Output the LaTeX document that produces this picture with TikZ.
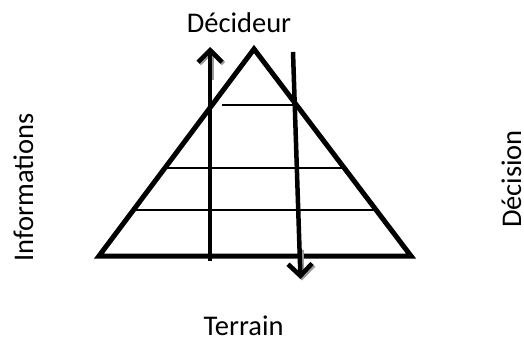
\documentclass[tikz,border=0pt]{standalone}
\usepackage{fontspec}
\setmainfont{Carlito}
\usetikzlibrary{arrows.meta}
\begin{document}
\begin{tikzpicture}[x=1pt,y=-1pt,
  lbl/.style={inner sep=0pt,font=\fontsize{28.5}{30}\selectfont},
  tri/.style={line width=5pt,miter limit=10},
  rung/.style={line width=1.5pt},
  arr/.style={line width=4.5pt,-{Straight Barb[length=12pt,width=24pt,line width=4.5pt]}},
  shade/.style={arr,draw=black!40}]
\useasboundingbox (0,0) rectangle (524,339);
% labels
\node[lbl,anchor=base] (dec) at (239,33) {Décideur};
\node[lbl,anchor=base] (ter) at (243.5,335) {Terrain};
\node[lbl,anchor=base,rotate=90] (inf) at (33,187.5) {Informations};
\node[lbl,anchor=base,rotate=90] (dsn) at (521,179) {Décision};
% triangle
\coordinate (A) at (99,256);
\coordinate (B) at (411,256);
\coordinate (C) at (254,49);
\draw[tri] (A) -- (B) -- (C) -- cycle;
% rungs
\coordinate (r1a) at (222,105); \coordinate (r1b) at (296,105);
\coordinate (r2a) at (165,168); \coordinate (r2b) at (345,168);
\coordinate (r3a) at (133,210); \coordinate (r3b) at (377,210);
\draw[rung] (r1a) -- (r1b);
\draw[rung] (r2a) -- (r2b);
\draw[rung] (r3a) -- (r3b);
% arrows (with light shadow)
\coordinate (u0) at (210,261);
\coordinate (u1) at (210,47);
\coordinate (us0) at (211.5,80);
\coordinate (us1) at (211.5,48.5);
\coordinate (d0) at (293,52);
\coordinate (d1) at (300.5,279);
\coordinate (ds0) at (301.5,250);
\coordinate (ds1) at (302,280.5);
\draw[shade] (us0) -- (us1);
\draw[shade] (ds0) -- (ds1);
\draw[arr] (u0) -- (u1);
\draw[arr] (d0) -- (d1);
\end{tikzpicture}
\end{document}
